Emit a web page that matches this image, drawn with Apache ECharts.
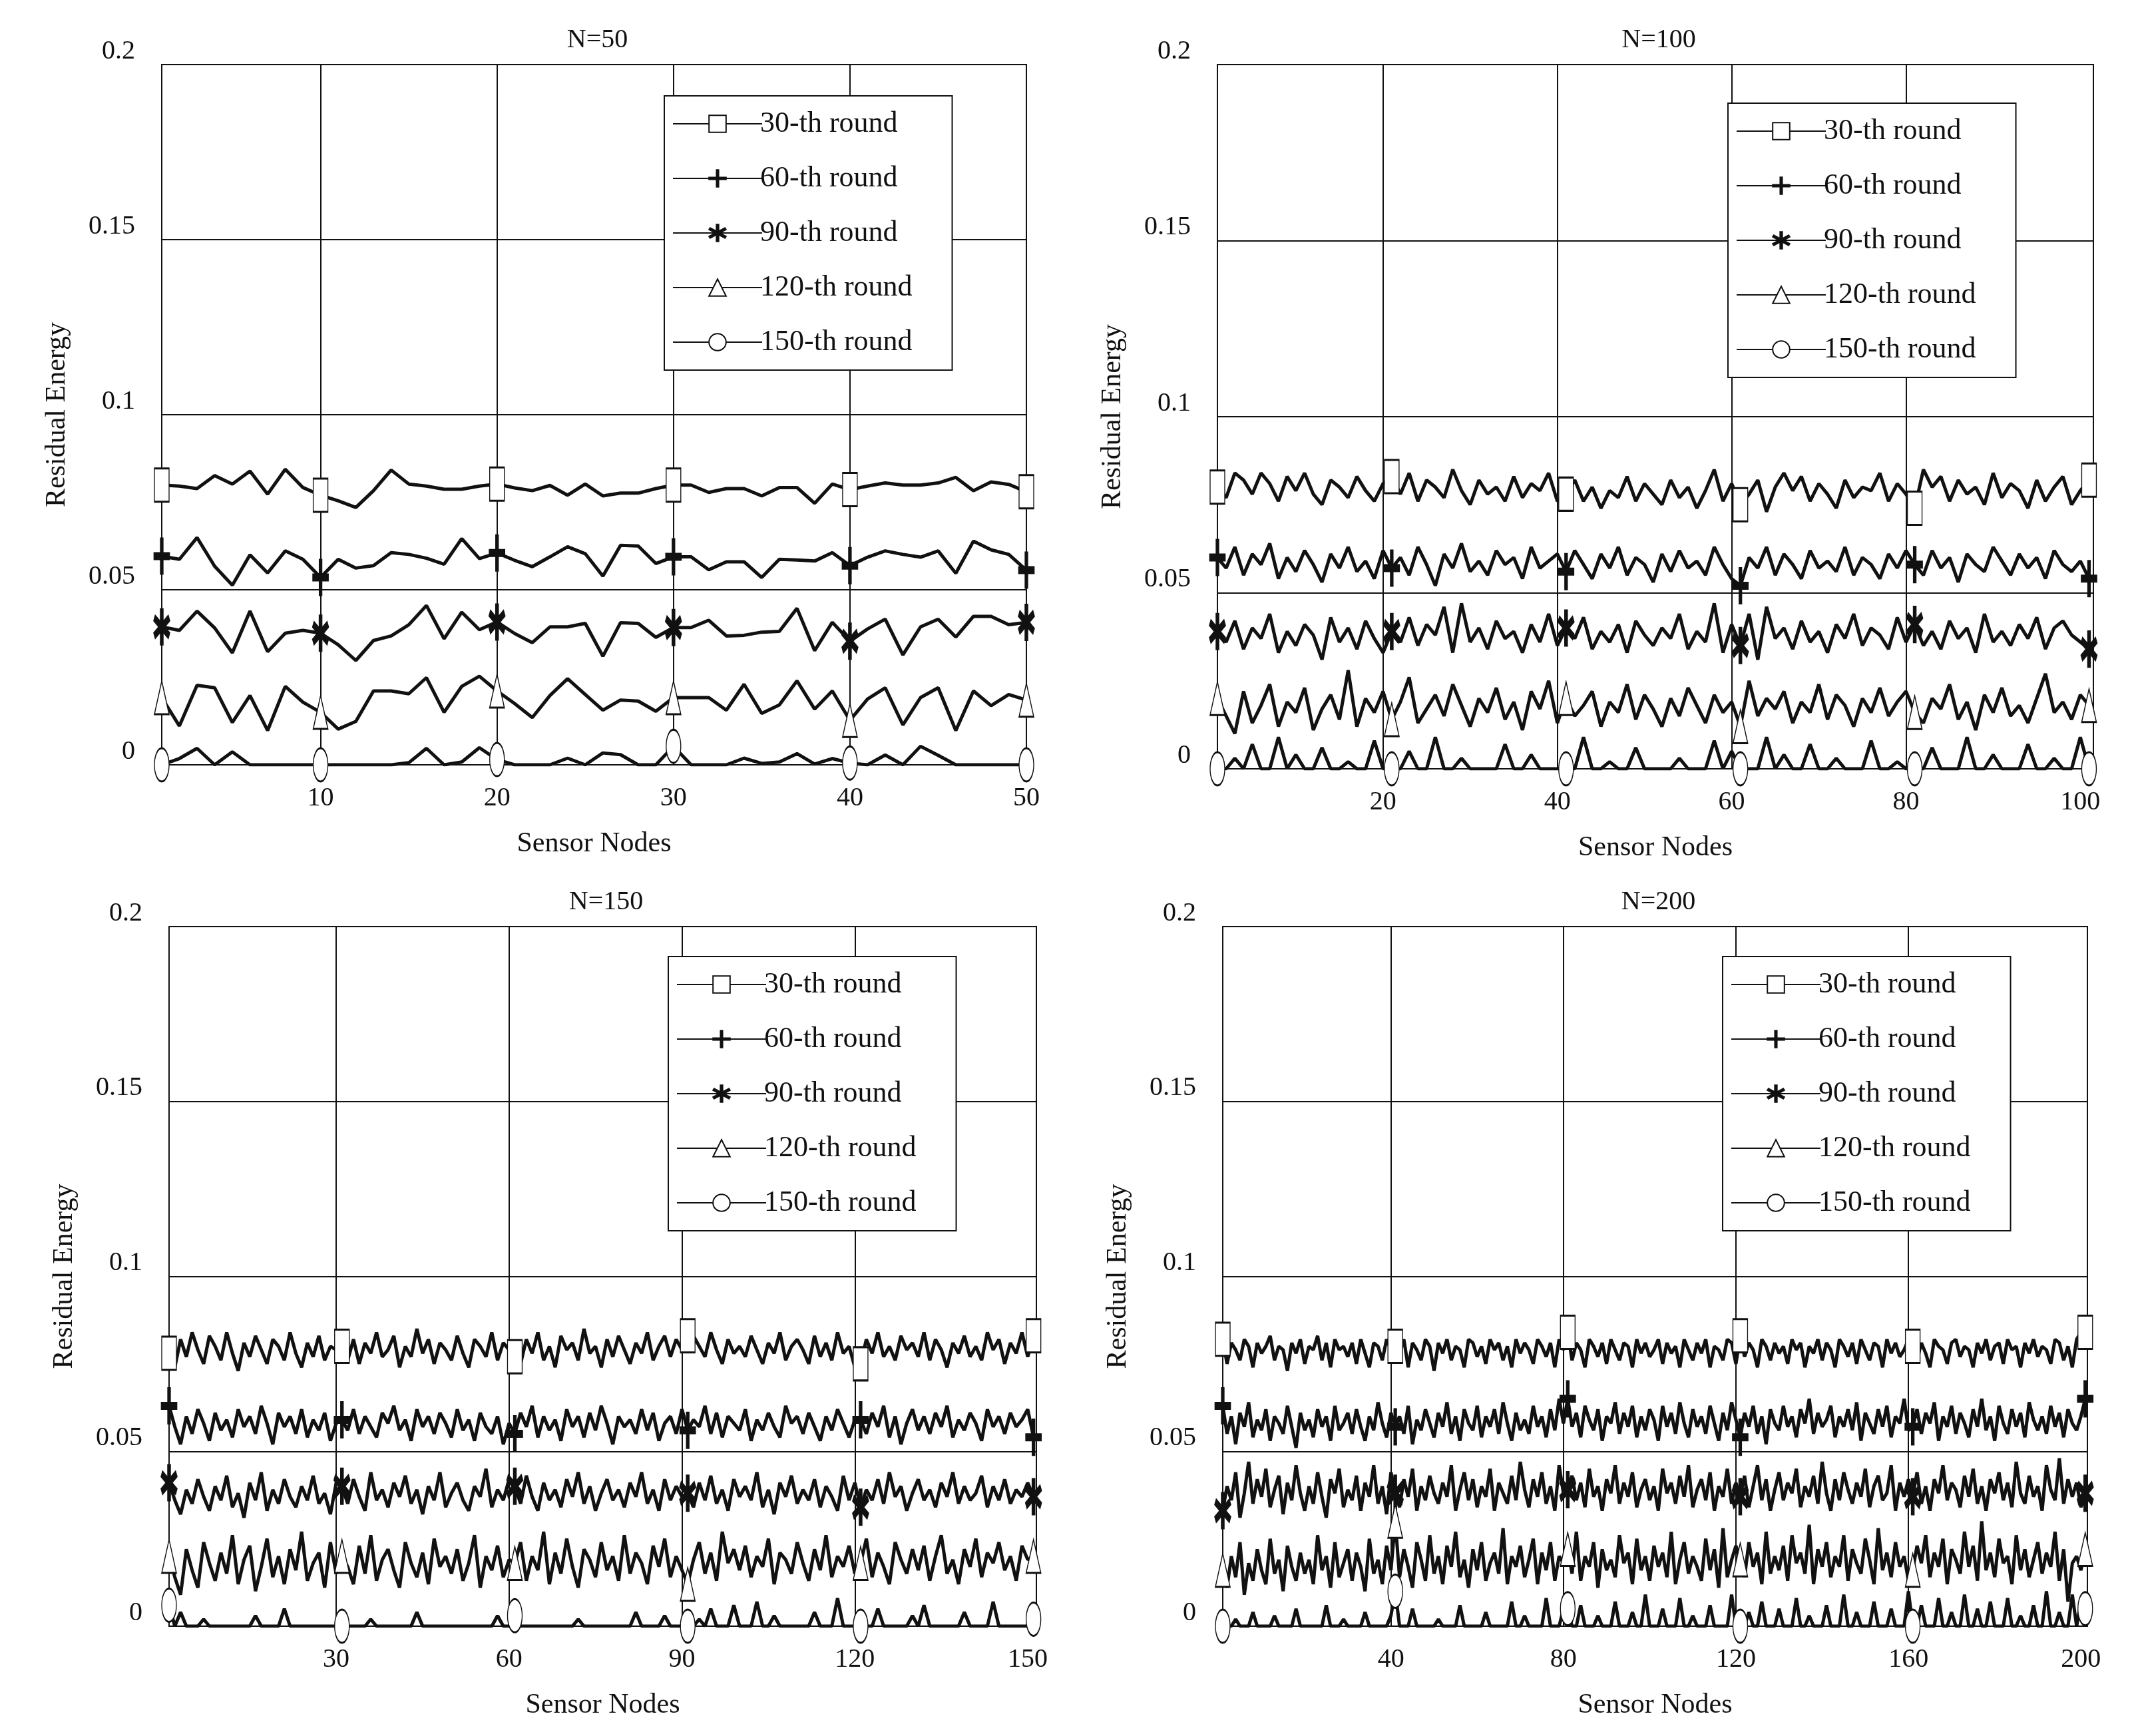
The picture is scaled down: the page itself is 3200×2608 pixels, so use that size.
<!DOCTYPE html>
<html>
<head>
<meta charset="utf-8">
<script src="https://cdn.jsdelivr.net/npm/echarts@6/dist/echarts.min.js"></script>
<style>
  html, body { margin: 0; padding: 0; background: #fff; }
  #mychart { width: 3200px; height: 2608px; }
</style>
</head>
<body>
<div id="mychart"></div>
<script>
// residual energy values, in units of 0.001
let roundNames = ['30-th round', '60-th round', '90-th round', '120-th round', '150-th round']
let panelTitles = ['N=50', 'N=100', 'N=150', 'N=200']
let yTicks = [0, 0.05, 0.1, 0.15, 0.2]
let xTicks50 = [10, 20, 30, 40, 50]
let xTicks100 = [20, 40, 60, 80, 100]
let xTicks150 = [30, 60, 90, 120, 150]
let xTicks200 = [40, 80, 120, 160, 200]

let p1_30 = [79.9,79.6,78.9,82.6,80.2,83.9,77.3,84.4,79.2,77.0,75.4,73.5,78.3,84.2,80.2,79.6,78.7,78.7,79.6,80.2,79.1,78.3,79.8,77.0,80.2,76.8,77.6,77.6,78.9,79.9,79.9,77.8,78.9,78.9,76.8,79.2,79.2,74.7,80.2,78.6,79.6,80.5,79.9,79.9,80.5,82.1,78.3,80.8,80.1,78.0]
let p1_60 = [59.6,58.7,64.9,56.7,51.3,60.0,54.8,61.1,58.7,53.5,58.7,56.2,56.9,60.6,60.1,59.0,57.3,64.6,58.9,60.5,58.4,56.6,59.4,62.3,60.3,53.9,62.7,62.5,57.5,59.4,59.4,55.7,58.0,58.0,53.5,58.7,58.5,58.2,60.6,56.9,59.3,61.1,60.1,59.3,61.1,54.7,63.9,61.4,60.1,55.6]
let p1_90 = [39.4,38.4,43.9,39.1,32.0,43.9,32.3,37.6,38.4,37.6,34.3,29.8,35.5,36.8,40.0,45.5,36.0,43.6,38.6,40.8,37.5,34.9,39.4,39.4,40.4,31.0,40.6,40.4,36.4,39.2,39.2,41.3,36.8,37.0,37.9,38.1,44.7,32.6,40.7,35.3,38.8,41.6,31.4,39.4,41.6,36.5,42.4,42.4,40.0,40.7]
let p1_120 = [19.2,11.1,22.7,22.0,12.1,19.8,9.8,22.4,17.9,15.0,10.2,12.4,21.1,21.1,20.3,24.9,15.0,22.4,25.3,21.1,17.5,13.5,19.8,24.6,20.1,15.6,18.5,18.2,15.3,19.2,19.2,19.2,15.6,23.0,14.7,17.1,24.0,15.9,21.1,12.7,18.8,22.0,11.4,19.2,22.0,9.8,21.1,16.9,20.1,18.5]
let p1_150 = [0,1.8,4.7,0,3.7,0,0,0,0,0,0,0,0,0,0.6,4.7,0,0.8,4.9,1.5,0,0,0,1.9,0,3.4,2.9,0,0,5.3,0,0,0,1.9,0.4,0.8,3.2,0.2,1.8,0.5,0,2.8,0,5.3,2.7,0,0,0,0,0]

let p2_30 = [80,77,84,82,78,84,81,76,83,79,84,78,75,82,80,77,83,79,76,81,83,78,84,76,82,80,77,85,79,75,82,78,80,76,83,77,81,79,84,76,78,82,76,80,74,79,77,83,76,81,78,75,82,77,80,74,79,85,76,81,75,78,82,73,80,84,79,83,76,81,78,74,82,77,80,79,84,76,81,78,74,85,80,83,76,82,78,80,75,84,77,81,79,74,82,76,80,83,75,79,82]
let p2_60 = [60,57,63,55,61,58,64,54,60,56,62,58,53,61,57,63,56,59,54,62,57,60,55,63,58,52,61,57,64,56,59,55,62,58,60,54,63,57,59,61,56,62,58,54,61,57,63,55,60,58,53,61,56,62,57,59,55,63,58,54,52,60,57,63,55,61,58,54,62,57,59,56,63,55,60,58,54,61,57,62,58,55,62,57,60,53,61,58,56,63,59,55,61,57,60,54,62,58,56,59,54]
let p2_90 = [39,36,42,34,40,37,44,33,39,35,41,38,31,43,36,40,34,42,37,33,39,36,43,35,41,38,46,33,47,36,40,34,42,37,39,33,41,36,44,35,40,37,43,34,39,36,41,33,42,38,35,40,37,44,34,39,36,47,33,41,35,44,31,46,37,40,34,42,36,39,33,41,37,44,35,40,38,34,43,36,41,35,39,34,42,37,40,33,44,36,39,35,41,37,43,34,40,42,38,36,34]
let p2_120 = [20,15,10,22,13,18,24,12,19,16,23,11,17,21,14,28,12,20,16,22,14,19,26,13,17,21,15,24,18,12,20,16,23,14,19,11,22,17,25,13,20,15,18,22,12,19,16,24,14,21,17,12,20,15,23,18,13,21,16,19,12,25,15,20,17,22,13,19,16,24,14,21,18,12,20,16,23,15,19,22,16,13,20,17,24,14,19,11,21,16,23,15,18,13,20,27,16,19,14,21,18]
let p2_150 = [0,0,3,0,7,0,0,9,0,4,0,0,6,0,0,2,0,0,8,0,0,0,5,0,0,9,0,0,3,0,0,0,0,7,0,0,4,0,0,0,0,0,9,0,0,2,0,0,6,0,0,0,0,3,0,0,0,8,0,5,0,0,0,9,0,4,0,0,7,0,0,3,0,0,0,8,0,0,2,0,0,0,6,0,0,0,9,0,0,4,0,0,0,7,0,0,3,0,0,9,0]

let p3_30 = [78,74,82,77,84,79,75,83,80,76,84,78,73,81,77,83,79,75,82,80,76,84,78,74,81,77,83,76,80,79,80,76,82,75,81,78,84,77,79,83,74,80,77,85,78,82,75,81,79,76,83,78,74,82,80,77,84,76,81,79,77,75,82,78,84,76,80,74,83,79,81,76,85,78,80,74,82,77,83,79,75,81,78,84,76,80,83,77,82,79,83,83,80,77,84,79,75,82,78,80,77,83,79,75,81,78,84,76,80,82,79,75,83,77,81,76,84,78,80,74,75,82,78,84,77,80,76,83,79,81,77,84,76,82,79,74,81,78,83,77,80,76,84,79,82,75,81,78,84,77,83]
let p3_60 = [63,57,52,60,55,62,58,53,61,56,59,54,62,57,60,55,63,58,52,61,57,60,55,62,54,59,56,61,53,58,59,56,62,55,60,57,54,61,58,63,56,59,53,62,57,60,55,61,58,54,62,56,59,53,61,57,55,60,52,58,55,61,57,63,54,60,56,59,53,62,57,60,54,61,56,63,58,52,60,57,59,55,62,56,61,53,58,60,55,62,56,59,57,63,55,61,54,60,58,56,62,53,59,56,61,57,54,63,58,60,55,61,57,53,60,56,62,58,54,59,59,55,61,57,63,54,60,52,58,62,56,60,55,61,57,63,54,59,56,61,58,53,62,57,60,55,61,57,59,62,54]
let p3_90 = [41,36,32,39,35,42,37,33,40,36,43,34,38,31,41,36,44,33,39,35,42,37,34,40,36,43,35,38,32,41,40,35,42,37,33,44,36,39,34,41,37,43,35,39,32,40,36,44,34,38,41,36,33,40,37,45,34,39,36,42,40,35,43,37,33,41,36,39,34,42,37,44,35,40,33,38,42,36,39,34,41,37,44,35,39,33,42,36,40,37,38,34,41,36,43,35,39,33,42,37,40,36,44,34,39,32,41,37,43,35,39,36,42,34,40,37,33,43,36,41,34,39,36,42,35,44,37,40,33,38,42,36,39,34,41,37,44,35,40,36,38,43,34,40,36,42,35,39,37,41,37]
let p3_120 = [20,14,9,22,16,11,24,18,13,21,15,26,12,19,23,10,17,25,14,20,12,22,16,27,13,18,21,11,24,15,20,17,12,23,15,26,13,19,22,16,11,24,18,14,21,12,25,17,20,15,22,13,18,26,11,20,16,23,14,19,18,24,13,20,16,27,12,21,15,25,17,11,22,19,14,24,16,20,13,26,15,21,18,12,23,17,25,14,20,16,12,19,24,15,21,13,27,18,22,16,23,14,20,17,25,12,21,19,15,24,18,13,22,16,26,14,20,17,23,15,18,25,14,21,17,12,24,19,15,22,16,23,13,20,26,15,19,12,22,17,25,14,21,18,24,16,20,13,23,19,20]
let p3_150 = [6,0,4,0,0,0,2,0,0,0,0,0,0,0,0,3,0,0,0,0,5,0,0,0,0,0,0,0,0,0,0,0,0,0,0,2,0,0,0,0,0,0,0,4,0,0,0,0,0,0,0,0,0,0,0,0,0,3,0,0,3,0,0,0,0,0,0,0,0,0,0,2,0,0,0,0,0,0,0,0,0,4,0,0,0,0,3,0,0,0,0,0,2,0,5,0,0,0,6,0,0,0,7,0,0,3,0,0,0,0,0,0,4,0,0,0,8,0,0,0,0,0,0,5,0,0,0,0,0,3,0,6,0,0,0,0,0,0,4,0,0,0,0,7,0,0,0,0,0,0,2]

let p4_30 = [82,75,81,79,76,82,80,74,81,78,80,83,76,80,79,73,81,78,82,75,80,79,83,76,81,74,82,79,80,77,81,75,82,78,74,81,80,76,82,79,80,78,82,74,81,79,76,82,80,73,81,78,82,76,80,79,74,82,81,77,80,75,82,79,81,76,80,74,82,78,81,79,75,82,80,77,81,74,82,79,84,76,81,79,74,82,80,77,81,75,82,79,76,81,80,74,82,78,81,77,79,82,75,81,78,80,74,82,79,76,81,78,82,74,80,79,76,82,81,75,83,77,81,79,74,82,80,76,81,78,80,75,82,79,81,74,80,78,82,76,81,79,74,82,80,77,81,75,82,79,76,81,80,74,82,78,81,77,79,82,80,76,81,78,74,82,80,79,75,81,82,77,80,79,74,81,78,82,76,80,81,75,82,79,80,74,81,78,82,77,80,79,75,82,81,76,80,74,82,84,84]
let p4_60 = [63,55,60,52,61,57,64,54,59,56,62,53,60,58,55,63,57,51,61,56,59,54,62,57,60,53,63,56,58,61,55,62,57,53,60,56,64,58,54,61,57,60,55,63,52,59,56,62,58,54,61,57,64,55,60,53,62,58,56,63,54,60,57,62,55,64,58,53,61,56,59,55,63,57,60,54,62,56,65,58,65,57,61,54,63,59,56,62,53,60,58,64,55,61,57,63,54,60,56,62,59,53,63,57,61,55,64,58,54,62,57,60,55,63,58,53,61,56,64,59,54,61,57,63,55,60,52,62,58,56,63,57,60,54,62,58,65,55,61,57,59,63,54,60,57,62,56,64,53,61,58,55,62,57,63,54,60,58,65,56,57,62,55,61,58,64,53,60,57,63,55,61,58,54,62,57,65,56,60,53,63,58,55,62,57,61,54,64,59,56,60,55,63,57,61,54,62,58,56,60,65]
let p4_90 = [33,40,36,44,31,38,47,35,42,37,45,34,39,43,32,41,36,46,38,33,40,35,44,37,31,42,38,45,34,39,36,43,33,41,37,46,35,40,32,44,38,34,42,37,45,33,40,36,43,38,35,41,37,46,33,39,44,36,42,34,40,37,45,33,41,38,35,43,36,47,39,34,42,37,44,35,40,33,46,38,39,43,36,41,34,45,37,40,33,42,38,46,35,41,37,44,34,39,42,36,40,33,45,38,41,35,43,37,46,34,39,42,36,44,33,40,37,45,35,41,37,43,34,40,46,36,42,33,39,44,36,41,38,45,34,40,37,43,35,47,38,33,42,36,44,39,35,41,37,45,34,40,43,36,38,46,33,41,37,42,37,44,35,40,33,42,38,46,36,41,39,34,43,37,45,35,40,33,42,38,44,36,41,34,47,38,35,43,37,40,33,46,39,36,48,35,42,37,41,34,38]
let p4_120 = [16,11,20,14,24,9,18,13,22,16,12,25,15,19,10,23,17,13,21,15,19,12,26,16,20,11,24,14,18,22,13,21,17,10,25,15,19,12,23,16,30,14,22,17,11,24,19,13,26,15,20,12,23,17,27,14,19,11,22,16,24,13,18,21,15,28,12,20,17,23,14,19,25,12,21,16,24,13,20,18,22,15,27,13,20,17,24,11,22,16,19,14,26,18,21,12,25,16,20,13,23,17,21,14,27,12,19,24,15,20,17,13,25,16,22,11,28,14,19,23,19,14,24,17,21,12,27,15,20,16,23,13,26,18,21,15,29,12,22,17,24,14,20,17,26,13,22,18,15,25,19,12,28,16,21,14,24,17,20,13,16,23,18,26,14,21,17,25,12,22,19,15,27,17,23,13,30,16,21,14,25,18,20,12,26,16,22,14,19,24,15,21,17,27,13,22,7,18,20,16,22]
let p4_150 = [0,0,0,2,0,0,0,4,0,0,0,0,3,0,0,0,0,5,0,0,0,0,0,0,6,0,0,0,2,0,0,0,0,4,0,0,0,0,0,3,10,0,0,0,5,0,0,0,0,0,2,0,0,0,0,6,0,0,0,0,0,4,0,0,0,0,0,7,0,0,3,0,0,0,0,8,0,0,0,5,5,0,0,6,0,0,0,3,0,0,0,7,0,0,0,4,0,0,9,0,0,0,5,0,0,0,8,0,0,3,0,0,0,6,0,0,0,0,9,0,0,0,4,0,0,7,0,0,0,5,0,0,0,8,0,0,3,0,0,0,6,0,0,0,9,0,0,4,0,0,0,7,0,0,0,5,0,0,0,10,0,0,6,0,0,0,8,0,0,4,0,0,9,0,0,5,0,0,7,0,0,0,8,0,0,3,0,0,6,0,0,10,0,0,4,0,0,9,0,7,5]

let font = 'Liberation Serif'
let ink = '#111'
let plusPath = 'path://M-1.2,-10H1.2V10H-1.2Z M-10,-1.2H10V1.2H-10Z'
let starPath = 'path://M-1.2,-10H1.2V10H-1.2Z M8.06,6.04L9.26,3.96L-8.06,-6.04L-9.26,-3.96Z M9.26,-3.96L8.06,-6.04L-9.26,3.96L-8.06,6.04Z'
let symbols = ['emptyRect', plusPath, starPath, 'emptyTriangle', 'emptyCircle']

let panels = [
    {data: [p1_30, p1_60, p1_90, p1_120, p1_150], ticks: xTicks50, min: 1, max: 50, marks: [0, 9, 19, 29, 39, 49],
        grid: [243, 97, 1542, 1149], legend: [998, 144]},
    {data: [p2_30, p2_60, p2_90, p2_120, p2_150], ticks: xTicks100, min: 1, max: 101.5, marks: [0, 20, 40, 60, 80, 100],
        grid: [1829, 97, 3145, 1155], legend: [2596, 155]},
    {data: [p3_30, p3_60, p3_90, p3_120, p3_150], ticks: xTicks150, min: 1, max: 151.5, marks: [0, 30, 60, 90, 120, 150],
        grid: [254, 1392, 1557, 2443], legend: [1004, 1437]},
    {data: [p4_30, p4_60, p4_90, p4_120, p4_150], ticks: xTicks200, min: 1, max: 201.5, marks: [0, 40, 80, 120, 160, 200],
        grid: [1837, 1392, 3136, 2443], legend: [2588, 1437]}
]

let option = {
    backgroundColor: '#fff',
    animation: false,
    title: [], grid: [], xAxis: [], yAxis: [], legend: [], series: []
}

panels.forEach((p, k) => {
    let [l, t, r, b] = p.grid
    option.grid.push({left: l, top: t, width: r - l, height: b - t, show: true,
        borderColor: ink, borderWidth: 2, backgroundColor: '#fff'})
    option.title.push({text: panelTitles[k], left: (l + r) / 2, top: t - 62, textAlign: 'center',
        textStyle: {fontFamily: font, fontSize: 40, fontWeight: 'normal', color: ink}})
    option.xAxis.push({
        type: 'value', gridIndex: k, min: p.min, max: p.max,
        name: 'Sensor Nodes', nameLocation: 'middle', nameGap: 98,
        nameTextStyle: {fontFamily: font, fontSize: 42, color: ink},
        axisLine: {show: false}, axisTick: {show: false, customValues: p.ticks.slice(0, -1)},
        axisLabel: {customValues: p.ticks, fontFamily: font, fontSize: 40, color: ink, margin: 30},
        splitLine: {show: true, lineStyle: {color: ink, width: 2}}
    })
    option.yAxis.push({
        type: 'value', gridIndex: k, min: 0, max: 0.2, interval: 0.05,
        name: 'Residual Energy', nameLocation: 'middle', nameGap: 136,
        nameTextStyle: {fontFamily: font, fontSize: 42, color: ink},
        axisLine: {show: false}, axisTick: {show: false},
        axisLabel: {fontFamily: font, fontSize: 40, color: ink, margin: 40, verticalAlign: 'bottom',
            formatter: v => String(+v.toFixed(2))},
        splitLine: {show: true, lineStyle: {color: ink, width: 2}}
    })
    option.legend.push({
        data: roundNames, orient: 'vertical', left: p.legend[0], top: p.legend[1],
        backgroundColor: '#fff', borderColor: ink, borderWidth: 2, padding: [20, 60, 20, 12],
        itemWidth: 134, itemHeight: 32, itemGap: 38,
        textStyle: {fontFamily: font, fontSize: 44, color: ink, padding: [0, 0, 0, -8]}
    })
    p.data.forEach((arr, s) => {
        option.series.push({
            type: 'line', name: roundNames[s], xAxisIndex: k, yAxisIndex: k,
            symbol: symbols[s], symbolSize: [28, 32], showAllSymbol: true,
            lineStyle: {color: ink, width: 5}, itemStyle: {color: ink, borderColor: ink, borderWidth: 4},
            emphasis: {disabled: true},
            data: arr.map((v, i) => p.marks.includes(i)
                ? {value: [i + 1, v / 1000], symbolSize: [22, 50]}
                : {value: [i + 1, v / 1000], symbol: 'none'})
        })
    })
})

let myChart = echarts.init(document.getElementById('mychart'))
myChart.setOption(option)
</script>
</body>
</html>
